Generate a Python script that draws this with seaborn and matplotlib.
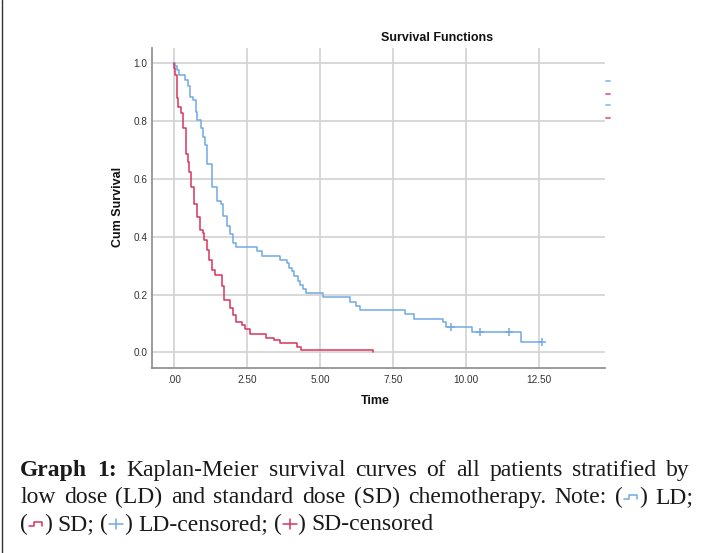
import numpy as np
import pandas as pd
import matplotlib
matplotlib.use("Agg")
import matplotlib.pyplot as plt
import seaborn as sns
from matplotlib.lines import Line2D

# ---------------- data ----------------
groups = ["LD", "SD"]

ld_time = [0.00, 0.05, 0.09, 0.17, 0.37, 0.48, 0.56, 0.67, 0.76, 0.80, 0.92, 1.00,
           1.05, 1.15, 1.31, 1.46, 1.60, 1.68, 1.83, 1.92, 2.02, 2.12, 2.83, 3.02,
           3.62, 3.86, 3.95, 4.03, 4.12, 4.26, 4.32, 4.43, 4.52, 5.11, 6.03, 6.22,
           6.37, 7.91, 8.22, 9.22, 9.32, 10.19, 11.87, 12.59]
ld_surv = [1.000, 0.990, 0.978, 0.960, 0.943, 0.920, 0.885, 0.873, 0.833, 0.804, 0.775, 0.746,
           0.717, 0.653, 0.571, 0.525, 0.512, 0.471, 0.437, 0.408, 0.379, 0.365, 0.350, 0.334,
           0.320, 0.309, 0.292, 0.280, 0.265, 0.247, 0.233, 0.218, 0.204, 0.190, 0.175, 0.160,
           0.146, 0.132, 0.117, 0.104, 0.088, 0.071, 0.036, 0.036]

sd_time = [0.00, 0.02, 0.05, 0.09, 0.15, 0.23, 0.30, 0.41, 0.47, 0.51, 0.60, 0.68,
           0.78, 0.88, 1.00, 1.04, 1.12, 1.21, 1.31, 1.40, 1.63, 1.71, 1.92, 2.01,
           2.11, 2.32, 2.43, 2.60, 3.17, 3.42, 3.63, 4.22, 4.34, 6.80]
sd_surv = [1.000, 0.984, 0.960, 0.880, 0.850, 0.827, 0.775, 0.685, 0.660, 0.624, 0.571, 0.513,
           0.470, 0.425, 0.414, 0.390, 0.355, 0.320, 0.286, 0.268, 0.228, 0.180, 0.152, 0.129,
           0.106, 0.094, 0.082, 0.065, 0.051, 0.042, 0.032, 0.020, 0.010, 0.000]

ld_cens_time = [9.49, 10.48, 11.48, 12.59]
ld_cens_surv = [0.088, 0.071, 0.071, 0.036]

x_ticks = [0.0, 2.5, 5.0, 7.5, 10.0, 12.5]
x_tick_labels = [".00", "2.50", "5.00", "7.50", "10.00", "12.50"]
y_ticks = [0.0, 0.2, 0.4, 0.6, 0.8, 1.0]
y_tick_labels = ["0.0", "0.2", "0.4", "0.6", "0.8", "1.0"]

title = "Survival Functions"
x_label = "Time"
y_label = "Cum Survival"

BLUE = "#72a9e6"
RED = "#d8345c"
palette = {"LD": BLUE, "SD": RED}

# ---------------- figure ----------------
sns.set_theme(style="white")
plt.rcParams["font.family"] = ["Liberation Sans", "DejaVu Sans"]

W, H = 701, 553
fig = plt.figure(figsize=(W / 100, H / 100), dpi=100)
fig.patch.set_facecolor("white")

def fx(px):
    return px / W

def fy(py):
    return 1 - py / H

ax_l, ax_r, ax_t, ax_b = 151.7, 605.0, 48.3, 368.3
ax = fig.add_axes([fx(ax_l), fy(ax_b), (ax_r - ax_l) / W, (ax_b - ax_t) / H])
ax.set_facecolor("white")

df = pd.concat([
    pd.DataFrame({"Time": ld_time, "Cum Survival": ld_surv, "group": groups[0]}),
    pd.DataFrame({"Time": sd_time, "Cum Survival": sd_surv, "group": groups[1]}),
], ignore_index=True)

sns.lineplot(data=df, x="Time", y="Cum Survival", hue="group", palette=palette,
             estimator=None, sort=False, drawstyle="steps-post", linewidth=1.1,
             legend=False, ax=ax, zorder=3)

cens = pd.DataFrame({"Time": ld_cens_time, "Cum Survival": ld_cens_surv})
sns.scatterplot(data=cens, x="Time", y="Cum Survival", marker="+", s=30,
                color=BLUE, linewidth=1.1, legend=False, ax=ax, zorder=4)

ax.set_xlim(-0.76, 14.76)
ax.set_ylim(-0.055, 1.052)
ax.set_xticks(x_ticks)
ax.set_xticklabels(x_tick_labels)
ax.set_yticks(y_ticks)
ax.set_yticklabels(y_tick_labels)
ax.tick_params(length=0, labelsize=7.2, colors="#333333")
ax.tick_params(axis="x", pad=5)
ax.tick_params(axis="y", pad=3)

ax.grid(True, color="#d2d2d2", linewidth=1.2)
ax.set_axisbelow(True)
for s in ["top", "right"]:
    ax.spines[s].set_visible(False)
for s in ["left", "bottom"]:
    ax.spines[s].set_color("#8a8a8a")
    ax.spines[s].set_linewidth(1.2)

ax.set_xlabel(x_label, fontsize=9, fontweight="bold", color="#111111")
ax.xaxis.label.set_va("center")
ax.xaxis.set_label_coords((375 - ax_l) / (ax_r - ax_l), (ax_b - 401) / (ax_b - ax_t))
ax.set_ylabel(y_label, fontsize=9, fontweight="bold", color="#111111")
ax.yaxis.label.set_va("center")
ax.yaxis.set_label_coords((118 - ax_l) / (ax_r - ax_l), (ax_b - 207) / (ax_b - ax_t))

fig.text(fx(436.7), fy(38), title, ha="center", va="center",
         fontsize=9, fontweight="bold", color="#111111")

# clipped legend remnants at right edge
for py, c in [(80.7, BLUE), (94, RED), (105, BLUE), (118.3, RED)]:
    fig.add_artist(Line2D([fx(606), fx(609.5)], [fy(py), fy(py)], color=c,
                          linewidth=1.4, alpha=0.7))

# left frame line
fig.add_artist(Line2D([fx(1.5), fx(1.5)], [0, 1], color="#333333", linewidth=1.0))

# ---------------- caption ----------------
renderer = fig.canvas.get_renderer()
cap_family = ["Liberation Serif", "DejaVu Serif"]

def measure(s, bold, size):
    t = fig.text(0, 0, s, fontsize=size, family=cap_family,
                 fontweight="bold" if bold else "normal")
    w = t.get_window_extent(renderer).width
    t.remove()
    return w

ICON_W = 16.0

line1 = [[("t", "Graph", True)], [("t", "1:", True)], [("t", "Kaplan-Meier", False)],
         [("t", "survival", False)], [("t", "curves", False)], [("t", "of", False)],
         [("t", "all", False)], [("t", "patients", False)], [("t", "stratified", False)],
         [("t", "by", False)]]
line2 = [[("t", w, False)] for w in ["low", "dose", "(LD)", "and", "standard", "dose",
                                      "(SD)", "chemotherapy.", "Note:"]]
line2 += [[("t", "(", False), ("i", "step", BLUE), ("t", ")", False)], [("t", "LD;", False)]]
line3 = [[("t", "(", False), ("i", "step", RED), ("t", ")", False)], [("t", "SD;", False)],
         [("t", "(", False), ("i", "plus", BLUE), ("t", ")", False)], [("t", "LD-censored;", False)],
         [("t", "(", False), ("i", "plus", RED), ("t", ")", False)], [("t", "SD-censored", False)]]

def word_width(word, size):
    return sum(measure(p[1], p[2], size) if p[0] == "t" else ICON_W for p in word)

def line_width(words, size):
    sp = measure("a a", False, size) - measure("aa", False, size)
    return sum(word_width(w, size) for w in words) + sp * (len(words) - 1)

# fit font size so that the last (unjustified) line spans like the reference
target = (437 - 20) * 1.075
base = 10.0
cap_size = base * target / line_width(line3, base)

def draw_icon(kind, color, x0, base_y):
    ym = base_y - 6
    if kind == "step":
        xs = [x0 + 1, x0 + 6, x0 + 6, x0 + ICON_W - 2, x0 + ICON_W - 2]
        ys = [ym + 2, ym + 2, ym - 2, ym - 2, ym + 2]
        fig.add_artist(Line2D([fx(v) for v in xs], [fy(v) for v in ys],
                              color=color, linewidth=1.1))
    else:
        fig.add_artist(Line2D([fx(x0 + 1), fx(x0 + ICON_W - 1)], [fy(ym), fy(ym)],
                              color=color, linewidth=1.1))
        fig.add_artist(Line2D([fx(x0 + ICON_W / 2)] * 2, [fy(ym - 5), fy(ym + 5)],
                              color=color, linewidth=1.1))

def draw_word(word, x, base_y):
    for p in word:
        if p[0] == "t":
            fig.text(fx(x), fy(base_y), p[1], fontsize=cap_size, family=cap_family,
                     fontweight="bold" if p[2] else "normal", ha="left",
                     va="baseline", color="#1a1a1a")
            x += measure(p[1], p[2], cap_size)
        else:
            draw_icon(p[1], p[2], x, base_y)
            x += ICON_W
    return x

def draw_line(words, base_y, x0, x1=None):
    widths = [word_width(w, cap_size) for w in words]
    if x1 is None:
        gap = measure("a a", False, cap_size) - measure("aa", False, cap_size)
    else:
        gap = (x1 - x0 - sum(widths)) / (len(words) - 1)
    x = x0
    for w, wd in zip(words, widths):
        draw_word(w, x, base_y)
        x += wd + gap

draw_line(line1, 476, 20, 690)
draw_line(line2, 503, 20, 693)
draw_line(line3, 530, 20)

fig.savefig("out.png", dpi=100, facecolor="white")
